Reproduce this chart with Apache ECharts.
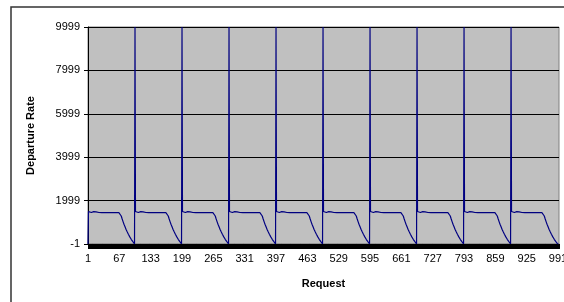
<!DOCTYPE html>
<html>
<head>
<meta charset="utf-8">
<script src="https://cdn.jsdelivr.net/npm/echarts@6/dist/echarts.min.js"></script>
<style>
  html, body { margin: 0; padding: 0; background: #fff; }
  #chart { width: 564px; height: 302px; }
</style>
</head>
<body>
<div id="chart"></div>
<script>
// values: every cycle has the same shape
var leadValue = [0];
var spikeValue = [9999];
var noisyFlat = [1495, 1455, 1500, 1450, 1490, 1505, 1450, 1495, 1460, 1500, 1450, 1490,
  1500, 1455, 1495, 1450, 1480, 1495, 1450, 1470, 1445, 1465, 1450, 1460, 1445, 1455,
  1441, 1450, 1441, 1445];
var flatLevel = 1441;
var flatCount = 37;
var decline = [1441, 1365, 1290, 1220, 1150, 1085, 1020, 960, 900, 845, 790, 735, 680,
  630, 585, 540, 495, 452, 408, 365, 328, 290, 252, 215, 180, 150, 120, 90, 62, 36, 10];
var tailValue = [0, 0, 0];
var cycleCount = 10;
var yTicks = [-1, 1999, 3999, 5999, 7999, 9999];

var rate = [].concat(leadValue);
for (var c = 0; c < cycleCount; c++) {
  if (c > 0) rate = rate.concat(spikeValue);
  rate = rate.concat(noisyFlat);
  for (var f = 0; f < flatCount; f++) rate.push(flatLevel);
  rate = rate.concat(decline);
}
rate = rate.concat(tailValue);

var requests = [];
for (var i = 1; i <= rate.length; i++) requests.push(String(i));

var chart = echarts.init(document.getElementById('chart'), null, { renderer: 'canvas' });
var font = 'Liberation Sans, Arial, sans-serif';

chart.setOption({
  animation: false,
  backgroundColor: '#fff',
  textStyle: { fontFamily: font },
  graphic: [{
    type: 'rect',
    shape: { x: 11, y: 7, width: 700, height: 400 },
    style: { fill: 'none', stroke: '#333', lineWidth: 1.5 },
    silent: true
  }],
  grid: {
    left: 88, right: 5, top: 27, bottom: 58,
    outerBoundsMode: 'none',
    containLabel: false,
    show: true, backgroundColor: '#c0c0c0', borderColor: '#808080', borderWidth: 1
  },
  xAxis: {
    type: 'category',
    data: requests,
    boundaryGap: false,
    name: 'Request',
    nameLocation: 'middle',
    nameGap: 34,
    nameTextStyle: { fontFamily: font, fontSize: 11, fontWeight: 'bold', color: '#000' },
    axisLine: { lineStyle: { color: '#000', width: 1 } },
    axisTick: { show: true, interval: 0, length: 5, lineStyle: { color: '#000' } },
    axisLabel: { interval: 65, color: '#000', fontSize: 11, fontFamily: font, margin: 9, hideOverlap: false },
    splitLine: { show: false }
  },
  yAxis: {
    type: 'value',
    min: yTicks[0],
    max: yTicks[yTicks.length - 1],
    interval: 2000,
    name: 'Departure Rate',
    nameLocation: 'middle',
    nameGap: 52,
    nameTextStyle: { fontFamily: font, fontSize: 11, fontWeight: 'bold', color: '#000' },
    axisLine: { show: true, lineStyle: { color: '#000', width: 1 } },
    axisTick: { show: true, length: 4, lineStyle: { color: '#000' } },
    axisLabel: {
      color: '#000', fontSize: 11, fontFamily: font, margin: 8,
      formatter: function (v) { return String(Math.round(v)); }
    },
    splitLine: { show: true, lineStyle: { color: '#000', width: 1 } }
  },
  series: [{
    type: 'line',
    data: rate,
    symbol: 'none',
    lineStyle: { color: '#000080', width: 1.2 },
    itemStyle: { color: '#000080' }
  }]
});
</script>
</body>
</html>
